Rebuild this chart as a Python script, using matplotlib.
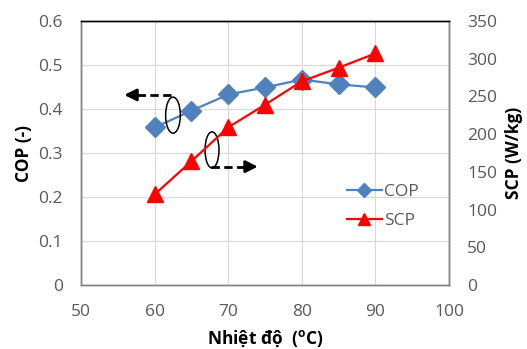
import matplotlib
matplotlib.use("Agg")
import matplotlib.pyplot as plt
from matplotlib.patches import Ellipse

plt.rcParams['font.family'] = ['Open Sans', 'DejaVu Sans']

temp = [60, 65, 70, 75, 80, 85, 90]
cop = [0.358, 0.396, 0.433, 0.449, 0.467, 0.456, 0.449]
scp = [120, 164, 209, 239, 270, 288, 307]

x_ticks = [50, 60, 70, 80, 90, 100]
cop_ticks = [0, 0.1, 0.2, 0.3, 0.4, 0.5, 0.6]
cop_labels = ['0', '0.1', '0.2', '0.3', '0.4', '0.5', '0.6']
scp_ticks = [0, 50, 100, 150, 200, 250, 300, 350]

grey = '#595959'
fig = plt.figure(figsize=(5.27, 3.49), dpi=100)
ax = fig.add_axes([81/527, 1-285/349, (449-81)/527, (285-21)/349])
ax2 = ax.twinx()

ax.set_xlim(50, 100)
ax.set_ylim(0, 0.6)
ax2.set_ylim(0, 350)
ax.set_xticks(x_ticks)
ax.set_yticks(cop_ticks)
ax.set_yticklabels(cop_labels)
ax2.set_yticks(scp_ticks)
ax.grid(True, color='#d9d9d9', linewidth=0.8)
ax.set_axisbelow(True)

for a in (ax, ax2):
    a.tick_params(length=0, labelsize=12.5, labelcolor=grey, pad=13)
    for s in a.spines.values():
        s.set_color('#808080')
        s.set_linewidth(1.0)
ax2.spines['top'].set_color('black')
ax.spines['top'].set_color('black')
ax.tick_params(axis='x', pad=14)

l1, = ax.plot(temp, cop, color='#4F81BD', marker='D', markersize=10, linewidth=1.6, label='COP', zorder=3)
l2, = ax2.plot(temp, scp, color='#FF0000', marker='^', markersize=11, linewidth=1.6, label='SCP', zorder=3,
               markeredgecolor='#FF0000')

ax.set_xlabel('Nhiệt độ  ($^{\\mathregular{o}}$C)', fontsize=12.5, fontweight='bold', labelpad=6)
ax.set_ylabel('COP (-)', fontsize=12.5, fontweight='bold', labelpad=4)
ax2.set_ylabel('SCP (W/kg)', fontsize=12.5, fontweight='bold', labelpad=6)

leg = ax.legend(handles=[l1, l2], loc='upper left', bbox_to_anchor=(0.69, 0.43), frameon=False,
                fontsize=12.5, handlelength=2.0, handletextpad=0.15, labelspacing=0.75, borderpad=0.2,
                markerscale=0.75)
for t in leg.get_texts():
    t.set_color(grey)

# annotations: ellipses and dashed arrows
ax.add_patch(Ellipse((62.5, 0.386), 2.0, 0.082, fill=False, edgecolor='black', linewidth=1.1, zorder=4))
ax.add_patch(Ellipse((67.8, 0.307), 1.9, 0.082, fill=False, edgecolor='black', linewidth=1.1, zorder=4))
for (x0, x1, y) in [(62.2, 56.9, 0.432), (67.7, 73.0, 0.269)]:
    ax.plot([x0, x1], [y, y], color='black', lw=2.0, linestyle=(0, (3.0, 1.6)), zorder=4)
ax.annotate('', xy=(55.5, 0.432), xytext=(57.3, 0.432),
            arrowprops=dict(arrowstyle='-|>', color='black', lw=2.0, mutation_scale=18))
ax.annotate('', xy=(74.4, 0.269), xytext=(72.6, 0.269),
            arrowprops=dict(arrowstyle='-|>', color='black', lw=2.0, mutation_scale=18))

fig.savefig('out.png', dpi=100)
